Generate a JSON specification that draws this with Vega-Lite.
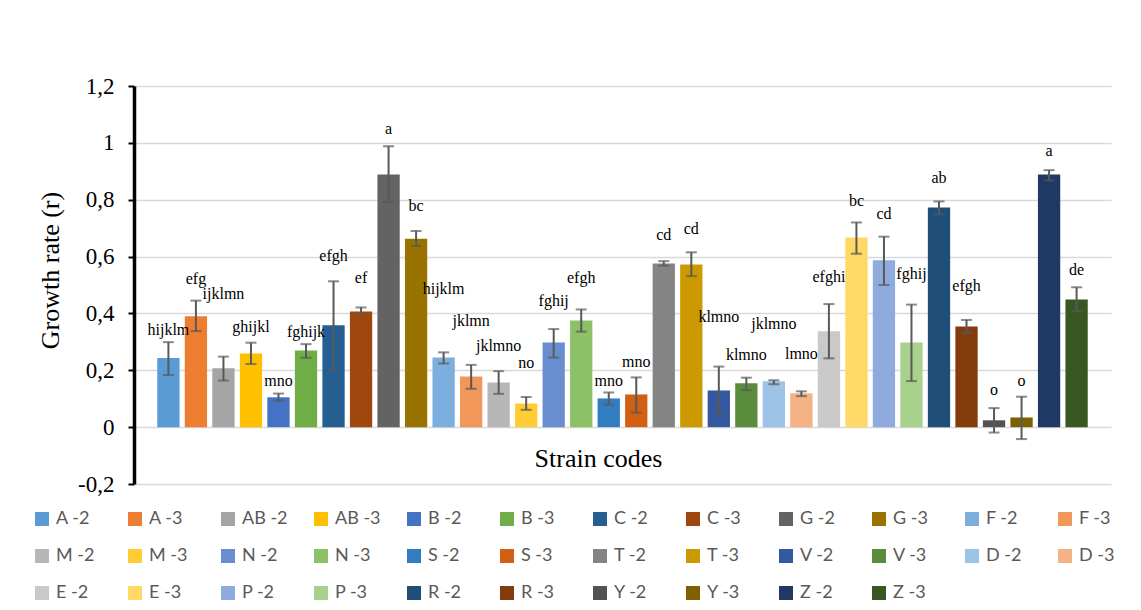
{
  "$schema": "https://vega.github.io/schema/vega-lite/v6.json",
  "width": 977,
  "height": 398,
  "autosize": {"type": "none"},
  "padding": {"left": 134, "top": 86, "right": 30, "bottom": 126},
  "background": "white",
  "config": {
    "view": {"stroke": null},
    "font": "Liberation Serif"
  },
  "data": {
    "values": [
      {"strain": "A -2", "r": 0.243, "lo": 0.183, "hi": 0.299, "grp": "hijklm", "labelY": 0.346},
      {"strain": "A -3", "r": 0.390, "lo": 0.338, "hi": 0.445, "grp": "efg", "labelY": 0.524},
      {"strain": "AB -2", "r": 0.207, "lo": 0.164, "hi": 0.248, "grp": "ijklmn", "labelY": 0.472},
      {"strain": "AB -3", "r": 0.259, "lo": 0.222, "hi": 0.297, "grp": "ghijkl", "labelY": 0.355},
      {"strain": "B -2", "r": 0.105, "lo": 0.093, "hi": 0.118, "grp": "mno", "labelY": 0.167},
      {"strain": "B -3", "r": 0.270, "lo": 0.244, "hi": 0.292, "grp": "fghijk", "labelY": 0.338},
      {"strain": "C -2", "r": 0.358, "lo": 0.200, "hi": 0.513, "grp": "efgh", "labelY": 0.607},
      {"strain": "C -3", "r": 0.407, "lo": 0.396, "hi": 0.421, "grp": "ef", "labelY": 0.527},
      {"strain": "G -2", "r": 0.889, "lo": 0.792, "hi": 0.988, "grp": "a", "labelY": 1.052},
      {"strain": "G -3", "r": 0.663, "lo": 0.637, "hi": 0.690, "grp": "bc", "labelY": 0.780},
      {"strain": "F -2", "r": 0.245, "lo": 0.224, "hi": 0.263, "grp": "hijklm", "labelY": 0.490},
      {"strain": "F -3", "r": 0.178, "lo": 0.135, "hi": 0.219, "grp": "jklmn", "labelY": 0.378},
      {"strain": "M -2", "r": 0.157, "lo": 0.117, "hi": 0.197, "grp": "jklmno", "labelY": 0.290},
      {"strain": "M -3", "r": 0.083, "lo": 0.061, "hi": 0.106, "grp": "no", "labelY": 0.229},
      {"strain": "N -2", "r": 0.298, "lo": 0.245, "hi": 0.345, "grp": "fghij", "labelY": 0.446},
      {"strain": "N -3", "r": 0.375, "lo": 0.336, "hi": 0.414, "grp": "efgh", "labelY": 0.528},
      {"strain": "S -2", "r": 0.101, "lo": 0.079, "hi": 0.122, "grp": "mno", "labelY": 0.167},
      {"strain": "S -3", "r": 0.115, "lo": 0.051, "hi": 0.175, "grp": "mno", "labelY": 0.231},
      {"strain": "T -2", "r": 0.576, "lo": 0.568, "hi": 0.584, "grp": "cd", "labelY": 0.681},
      {"strain": "T -3", "r": 0.572, "lo": 0.531, "hi": 0.615, "grp": "cd", "labelY": 0.699},
      {"strain": "V -2", "r": 0.129, "lo": 0.045, "hi": 0.213, "grp": "klmno", "labelY": 0.390},
      {"strain": "V -3", "r": 0.154, "lo": 0.130, "hi": 0.174, "grp": "klmno", "labelY": 0.258},
      {"strain": "D -2", "r": 0.161, "lo": 0.151, "hi": 0.165, "grp": "jklmno", "labelY": 0.365},
      {"strain": "D -3", "r": 0.119, "lo": 0.109, "hi": 0.126, "grp": "lmno", "labelY": 0.262},
      {"strain": "E -2", "r": 0.337, "lo": 0.242, "hi": 0.433, "grp": "efghi", "labelY": 0.531},
      {"strain": "E -3", "r": 0.667, "lo": 0.610, "hi": 0.720, "grp": "bc", "labelY": 0.800},
      {"strain": "P -2", "r": 0.587, "lo": 0.500, "hi": 0.670, "grp": "cd", "labelY": 0.755},
      {"strain": "P -3", "r": 0.298, "lo": 0.162, "hi": 0.431, "grp": "fghij", "labelY": 0.542},
      {"strain": "R -2", "r": 0.773, "lo": 0.748, "hi": 0.794, "grp": "ab", "labelY": 0.879},
      {"strain": "R -3", "r": 0.354, "lo": 0.332, "hi": 0.377, "grp": "efgh", "labelY": 0.499},
      {"strain": "Y -2", "r": 0.024, "lo": -0.019, "hi": 0.067, "grp": "o", "labelY": 0.135},
      {"strain": "Y -3", "r": 0.034, "lo": -0.042, "hi": 0.107, "grp": "o", "labelY": 0.167},
      {"strain": "Z -2", "r": 0.889, "lo": 0.868, "hi": 0.904, "grp": "a", "labelY": 0.976},
      {"strain": "Z -3", "r": 0.449, "lo": 0.408, "hi": 0.492, "grp": "de", "labelY": 0.558}
    ]
  },
  "encoding": {
    "x": {
      "field": "strain",
      "type": "nominal",
      "sort": null,
      "scale": {"paddingInner": 0.19, "paddingOuter": 0.845},
      "axis": {
        "labels": false,
        "ticks": false,
        "domain": false,
        "grid": false,
        "title": "Strain codes",
        "titleFont": "Liberation Serif",
        "titleFontSize": 26,
        "titleFontWeight": "normal",
        "titleColor": "black",
        "titleBaseline": "alphabetic",
        "titleX": 464,
        "titleY": -18
      }
    }
  },
  "layer": [
    {
      "mark": {"type": "bar"},
      "encoding": {
        "y": {
          "field": "r",
          "type": "quantitative",
          "title": "Growth rate (r)",
          "scale": {"domain": [-0.2, 1.2], "nice": false, "zero": false},
          "axis": {
            "values": [-0.2, 0, 0.2, 0.4, 0.6, 0.8, 1, 1.2],
            "labelExpr": "replace(replace(format(datum.value, '.1~f'), '.', ','), '−', '-')",
            "labelFont": "Liberation Serif",
            "labelFontSize": 23,
            "labelColor": "black",
            "labelPadding": 14,
            "tickColor": "black",
            "tickSize": 6,
            "tickWidth": 2,
            "domainColor": "black",
            "domainWidth": 3.5,
            "grid": true,
            "gridColor": "#d9d9d9",
            "gridWidth": 1.5,
            "titleFont": "Liberation Serif",
            "titleFontSize": 26,
            "titleFontWeight": "normal",
            "titleColor": "black",
            "titleAngle": -90,
            "titleAlign": "center",
            "titleBaseline": "middle",
            "titleX": -84,
            "titleY": 184
          }
        },
        "y2": {"datum": 0},
        "color": {
          "field": "strain",
          "type": "nominal",
          "sort": null,
          "scale": {
            "domain": ["A -2", "A -3", "AB -2", "AB -3", "B -2", "B -3", "C -2", "C -3", "G -2", "G -3", "F -2", "F -3",
                       "M -2", "M -3", "N -2", "N -3", "S -2", "S -3", "T -2", "T -3", "V -2", "V -3", "D -2", "D -3",
                       "E -2", "E -3", "P -2", "P -3", "R -2", "R -3", "Y -2", "Y -3", "Z -2", "Z -3"],
            "range": ["#5B9BD5", "#ED7D31", "#A5A5A5", "#FFC000", "#4472C4", "#70AD47", "#255E91", "#9E480E", "#636363", "#997300", "#7CAFDD", "#F1975A",
                      "#B7B7B7", "#FFCD33", "#698ED0", "#8CC168", "#327DC2", "#D26012", "#848484", "#CC9A00", "#335AA1", "#5B8C3E", "#9DC3E6", "#F4B183",
                      "#C9C9C9", "#FFD966", "#8FAADC", "#A9D18E", "#1F4E79", "#843C0C", "#525252", "#7F6000", "#203864", "#385723"]
          },
          "legend": {
            "title": null,
            "orient": "none",
            "legendX": -101,
            "legendY": 424,
            "direction": "horizontal",
            "columns": 12,
            "gridAlign": "all",
            "columnPadding": 24,
            "rowPadding": 19,
            "symbolLimit": 40,
            "symbolType": "square",
            "symbolSize": 196,
            "symbolStrokeWidth": 0,
            "labelFont": "Lato",
            "labelFontSize": 18,
            "labelColor": "#595959",
            "labelOffset": 5
          }
        }
      }
    },
    {
      "mark": {"type": "rule", "color": "#595959", "strokeWidth": 2},
      "encoding": {
        "y": {"field": "lo", "type": "quantitative", "title": "Growth rate (r)"},
        "y2": {"field": "hi"}
      }
    },
    {
      "mark": {"type": "tick", "color": "#595959", "thickness": 2, "size": 11},
      "encoding": {
        "y": {"field": "lo", "type": "quantitative", "title": "Growth rate (r)"}
      }
    },
    {
      "mark": {"type": "tick", "color": "#595959", "thickness": 2, "size": 11},
      "encoding": {
        "y": {"field": "hi", "type": "quantitative", "title": "Growth rate (r)"}
      }
    },
    {
      "mark": {"type": "text", "font": "Liberation Serif", "fontSize": 16, "color": "black", "baseline": "middle", "dy": 1},
      "encoding": {
        "y": {"field": "labelY", "type": "quantitative", "title": "Growth rate (r)"},
        "text": {"field": "grp"}
      }
    }
  ]
}
